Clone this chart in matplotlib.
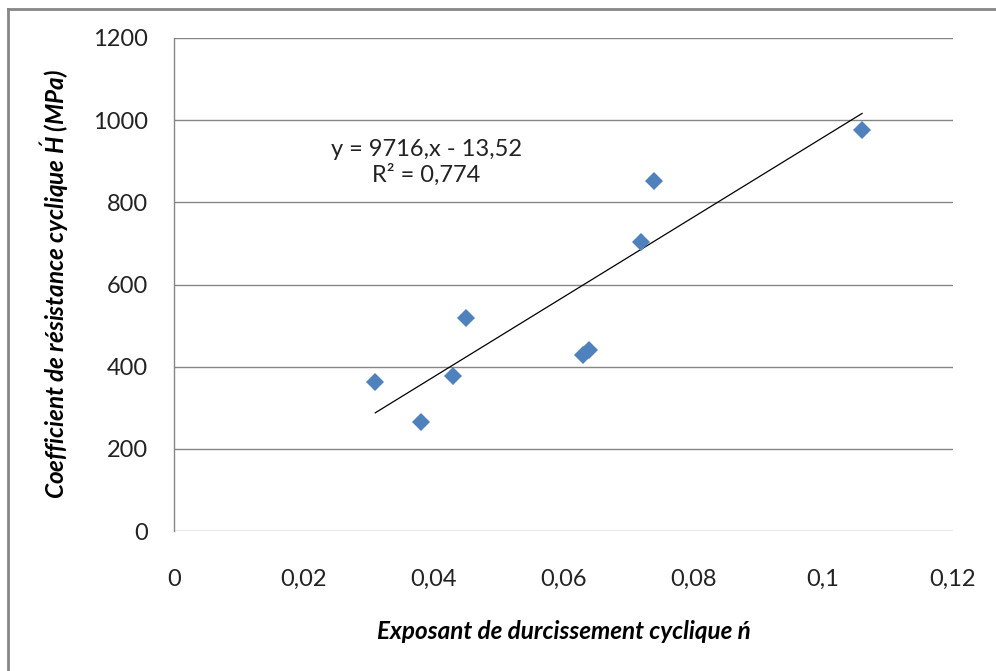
import numpy as np
import matplotlib.pyplot as plt
from matplotlib.lines import Line2D

plt.rcParams['font.family'] = ['Lato', 'DejaVu Sans']
plt.rcParams['mathtext.fontset'] = 'custom'
plt.rcParams['mathtext.rm'] = 'Lato'
plt.rcParams['mathtext.it'] = 'Lato:italic:bold'
plt.rcParams['mathtext.bf'] = 'Lato:bold'

# cyclic hardening exponent n' and cyclic strength coefficient H' (MPa)
n_prime = [0.031, 0.038, 0.043, 0.045, 0.063, 0.064, 0.072, 0.074, 0.106]
h_prime = [363, 265, 377, 518, 428, 441, 703, 851, 976]

# linear trend (as reported on the chart)
slope = 9716
intercept = -13.52
r2 = 0.774

x_ticks = [0, 0.02, 0.04, 0.06, 0.08, 0.1, 0.12]
x_tick_labels = ["0", "0,02", "0,04", "0,06", "0,08", "0,1", "0,12"]
y_ticks = [0, 200, 400, 600, 800, 1000, 1200]

fig = plt.figure(figsize=(9.96, 6.71), dpi=100)
ax = fig.add_axes([0.1747, 0.2086, 0.7821, 0.7348])

grid_col = "#868686"
for yv in y_ticks:
    ax.axhline(yv, color=grid_col, lw=1.0, zorder=1)

ax.plot(n_prime, h_prime, linestyle="none", marker="D", markersize=9.5,
        color="#4F81BD", markeredgewidth=0, zorder=3)

xf = np.array([min(n_prime), max(n_prime)])
ax.plot(xf, slope * xf + intercept, color="black", lw=0.9, zorder=2)

ax.text(0.0389, 897, "y = 9716,x - 13,52\nR² = 0,774", ha="center", va="center",
        fontsize=17, color="#222222", linespacing=1.2)

ax.set_xlim(0, 0.12)
ax.set_ylim(0, 1200)
ax.set_xticks(x_ticks)
ax.set_xticklabels(x_tick_labels)
ax.set_yticks(y_ticks)
ax.tick_params(axis="both", length=0, labelsize=17, colors="#222222")
ax.tick_params(axis="x", pad=27)
ax.tick_params(axis="y", pad=19)

for s in ["top", "right", "bottom"]:
    ax.spines[s].set_visible(False)
ax.spines["left"].set_color(grid_col)
ax.spines["left"].set_linewidth(1.0)

ax.set_xlabel("Exposant de durcissement cyclique ń", fontsize=17.5,
              fontstyle="italic", fontweight="bold")
ax.set_ylabel(r"Coefficient de résistance cyclique $\acute{H}$ (MPa)", fontsize=17.5,
              fontstyle="italic", fontweight="bold")
ax.xaxis.set_label_coords(0.5, -0.18)
ax.yaxis.set_label_coords(-0.132, 0.5)

# outer chart frame (left and top edges visible)
fig.add_artist(Line2D([8 / 996, 8 / 996], [0, 1 - 9 / 671], transform=fig.transFigure,
                      color=grid_col, lw=2))
fig.add_artist(Line2D([8 / 996, 1], [1 - 9 / 671, 1 - 9 / 671], transform=fig.transFigure,
                      color=grid_col, lw=2))

fig.savefig("out.png", dpi=100)
